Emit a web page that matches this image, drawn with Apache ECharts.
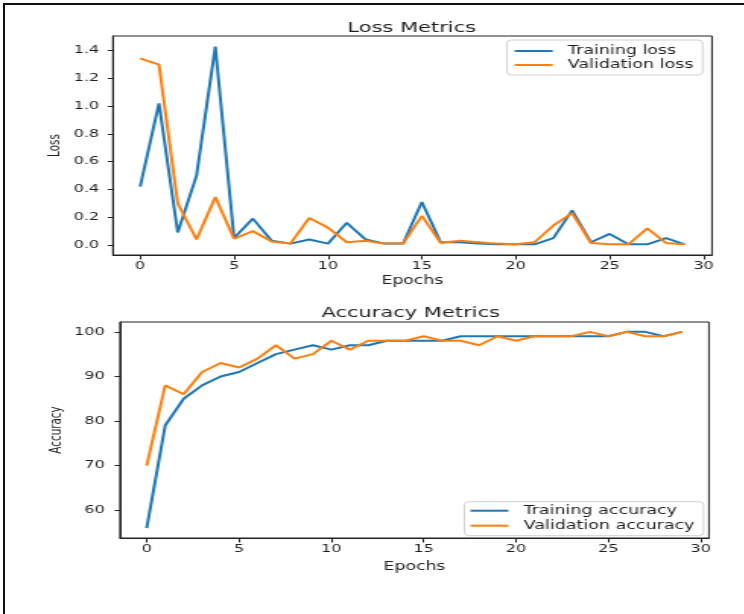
<!DOCTYPE html>
<html>
<head>
<meta charset="utf-8">
<script src="https://cdn.jsdelivr.net/npm/echarts@6/dist/echarts.min.js"></script>
<style>
  html, body { margin: 0; padding: 0; background: #fff; }
  /* the reference is a matplotlib figure stretched wide, so draw narrow and stretch */
  #chart { position: absolute; left: 0; top: 0; width: 489.5px; height: 614px; transform: scaleX(1.52); transform-origin: 0 0; }
  #frame { position: absolute; left: 3px; top: 3px; width: 741px; height: 611px; border-top: 2px solid #111; border-left: 2px solid #111; pointer-events: none; }
</style>
</head>
<body>
<div id="chart"></div>
<div id="frame"></div>
<script>
// epochs 0..29
var epochs = [0,1,2,3,4,5,6,7,8,9,10,11,12,13,14,15,16,17,18,19,20,21,22,23,24,25,26,27,28,29];

var trainLoss = [0.42,1.02,0.09,0.50,1.43,0.05,0.19,0.03,0.01,0.04,0.01,0.16,0.04,0.01,0.01,0.31,0.02,0.02,0.01,0.005,0.005,0.005,0.05,0.25,0.02,0.08,0.005,0.005,0.05,0.005];
var valLoss   = [1.345,1.30,0.30,0.04,0.345,0.045,0.10,0.025,0.01,0.195,0.125,0.02,0.03,0.01,0.01,0.21,0.015,0.03,0.02,0.01,0.005,0.02,0.14,0.23,0.015,0.005,0.005,0.12,0.015,0.005];

var trainAcc = [56,79,85,88,90,91,93,95,96,97,96,97,97,98,98,98,98,99,99,99,99,99,99,99,99,99,100,100,99,100];
var valAcc   = [70,88,86,91,93,92,94,97,94,95,98,96,98,98,98,99,98,98,97,99,98,99,99,99,100,99,100,99,99,100];

var xTicks = [0,5,10,15,20,25,30];
var lossTicks = [0,0.2,0.4,0.6,0.8,1.0,1.2,1.4];
var accTicks = [60,70,80,90,100];

var FONT = 'DejaVu Sans';
var INK = '#1f1f1f';
var BLUE = '#1f77b4';
var ORANGE = '#ff7f0e';

function pairs(ys) {
  return epochs.map(function (e, i) { return [e, ys[i]]; });
}

function xAx(gridIndex, gap) {
  return {
    type: 'value', gridIndex: gridIndex, min: -1.45, max: 30.45,
    name: 'Epochs', nameLocation: 'middle', nameGap: gap, nameMoveOverlap: false,
    nameTextStyle: { fontFamily: FONT, fontSize: 11.4, color: INK },
    axisLine: { show: true, onZero: false, lineStyle: { color: '#222', width: 1 } },
    axisTick: { show: true, length: 4.5, customValues: xTicks, lineStyle: { color: '#222' } },
    axisLabel: { customValues: xTicks, margin: 6, fontFamily: FONT, fontSize: 10.5, color: INK },
    splitLine: { show: false }
  };
}

function yAx(gridIndex, name, min, max, ticks, gap, margin, fmt) {
  return {
    type: 'value', gridIndex: gridIndex, min: min, max: max,
    name: name, nameLocation: 'middle', nameGap: gap, nameRotate: 90, nameMoveOverlap: false,
    nameTextStyle: { fontFamily: FONT, fontSize: 10.4, color: INK },
    axisLine: { show: true, onZero: false, lineStyle: { color: '#222', width: 1 } },
    axisTick: { show: true, length: 3.5, customValues: ticks, lineStyle: { color: '#222' } },
    axisLabel: { customValues: ticks, margin: margin, fontFamily: FONT, fontSize: 10.5, color: INK, formatter: fmt },
    splitLine: { show: false }
  };
}

function line(name, x, y, data, color) {
  return {
    name: name, type: 'line', xAxisIndex: x, yAxisIndex: y,
    data: data, symbol: 'none', smooth: false,
    lineStyle: { color: color, width: 2 },
    itemStyle: { color: color }
  };
}

function legend(names, left, top, gap, pad) {
  return {
    data: names, orient: 'vertical', left: left, top: top,
    icon: 'rect', itemWidth: 25, itemHeight: 2, itemGap: gap, padding: pad,
    borderColor: '#d0d0d0', borderWidth: 1, borderRadius: 3,
    backgroundColor: '#fff',
    textStyle: { fontFamily: FONT, fontSize: 11.5, color: INK, lineHeight: 12, padding: [0, 0, 0, 5] }
  };
}

var chart = echarts.init(document.getElementById('chart'));
chart.setOption({
  animation: false,
  backgroundColor: 'transparent',
  title: [
    { text: 'Loss Metrics', left: 228.5, top: 21.7, padding: 0,
      textStyle: { fontFamily: FONT, fontSize: 13.8, fontWeight: 'normal', color: INK } },
    { text: 'Accuracy Metrics', left: 211.5, top: 306, padding: 0,
      textStyle: { fontFamily: FONT, fontSize: 13.8, fontWeight: 'normal', color: INK } }
  ],
  legend: [
    legend(['Training loss', 'Validation loss'], 333.6, 40, 2, [5, 6, 4, 5]),
    legend(['Training accuracy', 'Validation accuracy'], 305.5, 501.7, 3, [3, 6, 4, 4])
  ],
  grid: [
    { left: 74.3, top: 36, width: 394.1, height: 219, show: true, borderColor: '#222', borderWidth: 1, outerBoundsMode: 'none' },
    { left: 78.9, top: 322, width: 387.5, height: 216, show: true, borderColor: '#222', borderWidth: 1, outerBoundsMode: 'none' }
  ],
  xAxis: [xAx(0, 20.5), xAx(1, 23.5)],
  yAxis: [
    yAx(0, 'Loss', -0.072, 1.506, lossTicks, 33, 9, function (v) { return v.toFixed(1); }),
    yAx(1, 'Accuracy', 53.8, 102.2, accTicks, 37, 10, function (v) { return String(v); })
  ],
  series: [
    line('Training loss', 0, 0, pairs(trainLoss), BLUE),
    line('Validation loss', 0, 0, pairs(valLoss), ORANGE),
    line('Training accuracy', 1, 1, pairs(trainAcc), BLUE),
    line('Validation accuracy', 1, 1, pairs(valAcc), ORANGE)
  ]
});
</script>
</body>
</html>
